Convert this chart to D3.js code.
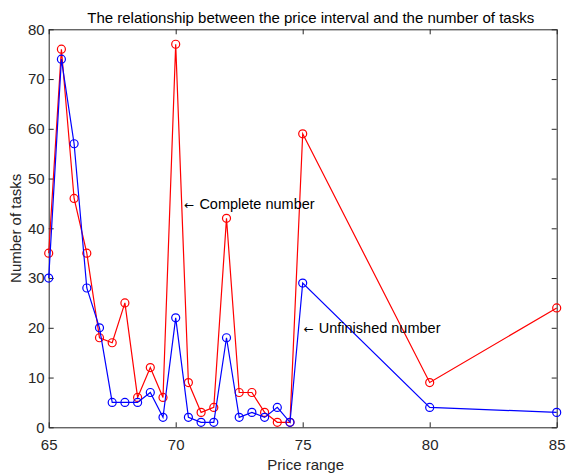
<!DOCTYPE html>
<html><head><meta charset="utf-8">
<script src="https://cdn.jsdelivr.net/npm/d3@7"></script>
<style>
html,body{margin:0;padding:0;background:#fff;}
svg{display:block;font-family:"Liberation Sans",Arial,sans-serif;}
</style></head>
<body>
<svg id="chart" width="566" height="474"></svg>
<script>
const priceRange = [65,65.5,66,66.5,67,67.5,68,68.5,69,69.5,70,70.5,71,71.5,72,72.5,73,73.5,74,74.5,75,80,85];
const completeNumber = [35,76,46,35,18,17,25,6,12,6,77,9,3,4,42,7,7,3,1,1,59,9,24];
const unfinishedNumber = [30,74,57,28,20,5,5,5,7,2,22,2,1,1,18,2,3,2,4,1,29,4,3];
const xTicks = [65,70,75,80,85];
const yTicks = [0,10,20,30,40,50,60,70,80];
const titleText = "The relationship between the price interval and the number of tasks";
const xLabel = "Price range";
const yLabel = "Number of tasks";
const annotations = [
  {x:70.3, y:45, text:"Complete number"},
  {x:75, y:20, text:"Unfinished number"}
];

const svg = d3.select("#chart");
const L = 48.7, R = 556.7, T = 29.3, B = 427.3;
const x = d3.scaleLinear().domain([65,85]).range([L,R]);
const y = d3.scaleLinear().domain([0,80]).range([B,T]);
const axisColor = "#262626";
const fs = 15;

// axes with inward ticks
const tl = 5;
const gB = svg.append("g").attr("transform",`translate(0,${B})`)
  .call(d3.axisBottom(x).tickValues(xTicks).tickSizeInner(-tl).tickSizeOuter(0).tickPadding(12));
const gT = svg.append("g").attr("transform",`translate(0,${T})`)
  .call(d3.axisTop(x).tickValues(xTicks).tickSizeInner(-tl).tickSizeOuter(0).tickFormat(""));
const gL = svg.append("g").attr("transform",`translate(${L},0)`)
  .call(d3.axisLeft(y).tickValues(yTicks).tickSizeInner(-tl).tickSizeOuter(0).tickPadding(4));
const gR = svg.append("g").attr("transform",`translate(${R},0)`)
  .call(d3.axisRight(y).tickValues(yTicks).tickSizeInner(-tl).tickSizeOuter(0).tickFormat(""));
[gB,gT,gL,gR].forEach(g=>{
  g.selectAll("path.domain").attr("stroke",axisColor);
  g.selectAll("line").attr("stroke",axisColor);
  g.selectAll("text").attr("fill",axisColor).attr("font-size",fs).attr("font-family","Liberation Sans, Arial, sans-serif");
});

function series(vals,color){
  const data = priceRange.map((p,i)=>({p,v:vals[i]}));
  svg.append("path").datum(data)
    .attr("fill","none").attr("stroke",color).attr("stroke-width",1.2)
    .attr("d",d3.line().x(d=>x(d.p)).y(d=>y(d.v)));
  svg.append("g").selectAll("circle").data(data).join("circle")
    .attr("cx",d=>x(d.p)).attr("cy",d=>y(d.v)).attr("r",4)
    .attr("fill","none").attr("stroke",color).attr("stroke-width",1.2);
}
series(completeNumber,"#ff0000");
series(unfinishedNumber,"#0000ff");

const ann = svg.append("g").selectAll("text").data(annotations).join("text")
  .attr("x",d=>x(d.x)+1).attr("y",d=>y(d.y)).attr("dy","0.35em")
  .attr("font-size",14.5).attr("fill","#000");
ann.append("tspan").attr("font-family","DejaVu Sans").attr("font-size",12).text("\u2190");
ann.append("tspan").attr("dx",5).text(d=>d.text);

svg.append("text").attr("x",(L+R)/2+8).attr("y",23).attr("text-anchor","middle")
  .attr("font-size",fs).attr("fill","#000").text(titleText);
svg.append("text").attr("x",(L+R)/2+3).attr("y",470).attr("text-anchor","middle")
  .attr("font-size",fs).attr("fill",axisColor).text(xLabel);
svg.append("text").attr("transform",`translate(21,${(T+B)/2}) rotate(-90)`).attr("text-anchor","middle")
  .attr("font-size",fs).attr("fill",axisColor).text(yLabel);
</script>
</body></html>
